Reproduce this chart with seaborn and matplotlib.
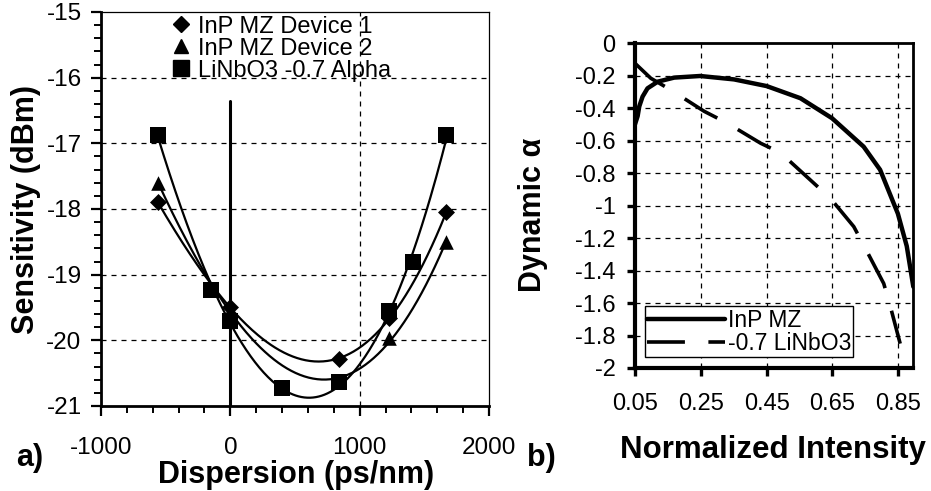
import numpy as np
import pandas as pd
import seaborn as sns
import matplotlib
matplotlib.use("Agg")
import matplotlib.pyplot as plt
from matplotlib.ticker import MultipleLocator, FixedLocator
from matplotlib.lines import Line2D

# ---------------- data: panel a) ----------------
d1_x = [-560, 0, 840, 1230, 1670]
d1_y = [-17.9, -19.5, -20.28, -19.66, -18.05]
d2_x = [-560, 0, 840, 1230, 1670]
d2_y = [-17.6, -19.55, -20.62, -19.97, -18.5]
ln_x = [-560, -150, 0, 400, 840, 1230, 1410, 1670]
ln_y = [-16.87, -19.24, -19.7, -20.72, -20.64, -19.55, -18.8, -16.87]
labels_a = ["InP MZ Device 1", "InP MZ Device 2", "LiNbO3 -0.7 Alpha"]

# ---------------- data: panel b) ----------------
inp_x = [0.05, 0.058, 0.063, 0.073, 0.088, 0.119, 0.169, 0.248, 0.351, 0.45,
         0.553, 0.649, 0.745, 0.795, 0.849, 0.876, 0.896]
inp_y = [-0.50, -0.45, -0.39, -0.33, -0.279, -0.238, -0.213, -0.203, -0.224, -0.265,
         -0.34, -0.463, -0.638, -0.78, -1.05, -1.25, -1.50]
lnb_x = [0.05, 0.098, 0.159, 0.26, 0.331, 0.432, 0.492, 0.583, 0.644, 0.715,
         0.75, 0.806, 0.826, 0.856]
lnb_y = [-0.125, -0.217, -0.289, -0.42, -0.494, -0.617, -0.675, -0.843, -0.956, -1.13,
         -1.263, -1.48, -1.62, -1.85]
labels_b = ["InP MZ", "-0.7 LiNbO3"]

sns.set_theme(style="ticks")
plt.rcParams["font.family"] = ["Liberation Sans", "DejaVu Sans"]
plt.rcParams["axes.unicode_minus"] = False
plt.rcParams["axes.edgecolor"] = "black"
plt.rcParams["axes.labelcolor"] = "black"
plt.rcParams["text.color"] = "black"
plt.rcParams["xtick.color"] = "black"
plt.rcParams["ytick.color"] = "black"
plt.rcParams["xtick.labelcolor"] = "black"
plt.rcParams["ytick.labelcolor"] = "black"

fig = plt.figure(figsize=(9.31, 4.91), dpi=100)
W, H = 931, 491
axa = fig.add_axes([101 / W, 1 - 406 / H, (489 - 101) / W, (406 - 12) / H])
axb = fig.add_axes([635 / W, 1 - 368 / H, (913 - 635) / W, (368 - 43) / H])

# ---------------- panel a ----------------
grid_kw = dict(color="black", lw=0.9, ls=(0, (4, 4)), zorder=0.5)
for yv in [-16, -17, -18, -19, -20]:
    axa.axhline(yv, **grid_kw)
axa.axvline(1000, **grid_kw)
axa.axvline(0, ymin=0, ymax=(21 - 16.35) / 6, color="black", lw=2.2, zorder=1)

series = [(d1_x, d1_y, "D", 75), (d2_x, d2_y, "^", 110), (ln_x, ln_y, "s", 130)]
handles = []
for (xs, ys, mk, sz), lab in zip(series, labels_a):
    coef = np.polyfit(xs, ys, 3)
    xf = np.linspace(min(xs), max(xs), 200)
    fit = pd.DataFrame({"x": xf, "y": np.polyval(coef, xf)})
    sns.lineplot(data=fit, x="x", y="y", ax=axa, color="black", lw=1.6,
                 legend=False, zorder=2)
    pts = pd.DataFrame({"x": xs, "y": ys})
    sns.scatterplot(data=pts, x="x", y="y", ax=axa, marker=mk, s=sz,
                    color="black", edgecolor="black", linewidth=0, zorder=3,
                    legend=False)
    handles.append(Line2D([], [], marker=mk, ls="none", color="black",
                          markersize=np.sqrt(sz) * 0.95, label=lab))

axa.set_xlim(-1000, 2000)
axa.set_ylim(-21, -15)
axa.xaxis.set_major_locator(MultipleLocator(1000))
axa.xaxis.set_minor_locator(MultipleLocator(200))
axa.yaxis.set_major_locator(MultipleLocator(1))
axa.yaxis.set_minor_locator(MultipleLocator(0.2))
axa.tick_params(axis="both", which="major", direction="out", length=7, width=1.6,
                labelsize=17.5)
axa.tick_params(axis="both", which="minor", direction="out", length=5, width=1.4)
axa.tick_params(axis="x", which="major", pad=15)
axa.tick_params(axis="y", which="major", pad=7)
for s in ["left", "bottom"]:
    axa.spines[s].set_linewidth(2.0)
for s in ["top", "right"]:
    axa.spines[s].set_linewidth(0.9)
    axa.spines[s].set_linestyle((0, (2, 1)))
axa.set_xlabel("Dispersion (ps/nm)", fontsize=22, fontweight="bold")
axa.set_ylabel("Sensitivity (dBm)", fontsize=22, fontweight="bold")
axa.xaxis.set_label_coords(0.503, -0.138)
axa.yaxis.set_label_coords(-0.155, 0.5)
leg = axa.legend(handles=handles, loc="upper left", bbox_to_anchor=(0.17, 1.0),
                 frameon=False, fontsize=17, labelspacing=0.0, handletextpad=0.25,
                 handlelength=0.9, borderpad=0.15, borderaxespad=0)

# ---------------- panel b ----------------
for yv in np.arange(-1.8, -0.1, 0.2):
    axb.axhline(yv, **grid_kw)
for xv in [0.25, 0.45, 0.65, 0.85]:
    axb.axvline(xv, **grid_kw)
dfa = pd.DataFrame({"x": inp_x, "y": inp_y})
dfb = pd.DataFrame({"x": lnb_x, "y": lnb_y})
sns.lineplot(data=dfa, x="x", y="y", ax=axb, sort=False, color="black", lw=3.2,
             legend=False, zorder=3, label=labels_b[0])
sns.lineplot(data=dfb, x="x", y="y", ax=axb, sort=False, color="black", lw=2.6,
             legend=False, zorder=3, label=labels_b[1],
             linestyle=(0, (10.5, 6.5)))
axb.set_xlim(0.05, 0.895)
axb.set_ylim(-2, 0)
axb.xaxis.set_major_locator(FixedLocator([0.05, 0.25, 0.45, 0.65, 0.85]))
axb.set_xticklabels(["0.05", "0.25", "0.45", "0.65", "0.85"])
axb.set_yticks(np.round(np.arange(-2, 0.01, 0.2), 1))
axb.set_yticklabels(["-2", "-1.8", "-1.6", "-1.4", "-1.2", "-1", "-0.8", "-0.6",
                     "-0.4", "-0.2", "0"])
axb.tick_params(axis="both", which="major", direction="out", length=6, width=2.4,
                labelsize=17)
axb.tick_params(axis="x", which="major", pad=12)
axb.tick_params(axis="y", which="major", pad=8)
for s in ["left", "bottom"]:
    axb.spines[s].set_linewidth(3.0)
for s in ["top", "right"]:
    axb.spines[s].set_linewidth(2.0)
axb.set_xlabel("Normalized Intensity", fontsize=22.5, fontweight="bold")
axb.set_ylabel("Dynamic α", fontsize=22, fontweight="bold")
axb.xaxis.set_label_coords(0.497, -0.205)
axb.yaxis.set_label_coords(-0.313, 0.47)
lg = axb.legend(loc="lower left", bbox_to_anchor=(0.036, 0.034), fontsize=16.5,
                frameon=True, fancybox=False, framealpha=1, edgecolor="black",
                handlelength=3.4, handletextpad=0.1, labelspacing=0.0,
                borderpad=0.1, borderaxespad=0)
lg.get_frame().set_linewidth(1.0)

fig.text(30 / W, 1 - 458 / H, "a)", fontsize=22, fontweight="bold",
         ha="center", va="center")
fig.text(541 / W, 1 - 458 / H, "b)", fontsize=22, fontweight="bold",
         ha="center", va="center")

fig.savefig("out.png", dpi=100, facecolor="white")
